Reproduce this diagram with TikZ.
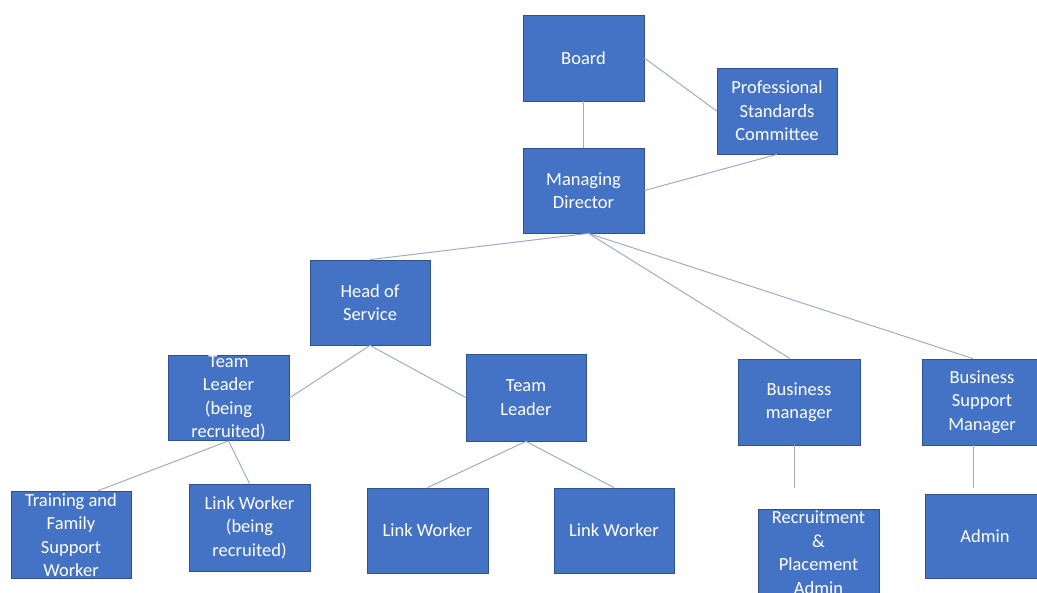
\documentclass[tikz,border=0pt]{standalone}
\usepackage{fontspec}
\setmainfont{Carlito}
\usetikzlibrary{calc}
\definecolor{boxblue}{RGB}{68,114,196}
\definecolor{boxedge}{RGB}{47,82,143}
\definecolor{linkline}{RGB}{160,172,200}
\tikzset{
  obox/.style={draw=boxedge, line width=0.8pt, fill=boxblue, inner sep=0pt, rectangle},
  otext/.style={text=white, align=center, inner sep=0pt, font=\fontsize{18.5}{23.5}\selectfont},
  link/.style={draw=linkline, line width=1pt}
}
\newcommand\orgbox[6]{%
  \node[obox, minimum width=#4pt, minimum height=#5pt] (#1) at (#2,#3) {};
  \begin{scope}
    \clip ([shift={(0.6pt,-0.6pt)}]#1.north west) rectangle ([shift={(-0.6pt,0.6pt)}]#1.south east);
    \node[otext] (#1-t) at (#1.center) {#6};
  \end{scope}}
\begin{document}
\begin{tikzpicture}[x=1pt,y=-1pt]
\clip (0,0) rectangle (1037,593);
\fill[white] (0,0) rectangle (1037,593);
% boxes
\orgbox{board}{583.5}{58}{121}{86}{Board}
\orgbox{psc}{777}{111}{120}{86}{Professional\\Standards\\Committee}
\orgbox{md}{583.5}{190.5}{121}{85}{Managing\\Director}
\orgbox{hos}{370}{302.5}{120}{85}{Head of\\Service}
\orgbox{tlr}{228.5}{398}{121}{85}{Team\\Leader\\(being\\recruited)}
\orgbox{tl}{526}{397.5}{120}{87}{Team\\Leader}
\orgbox{bm}{799}{402}{122}{86}{Business\\manager}
\orgbox{bsm}{982}{402}{120}{86}{Business\\Support\\Manager}
\orgbox{tfsw}{71}{535}{120}{87}{Training and\\Family\\Support\\Worker}
\orgbox{lwr}{249.5}{527.5}{121}{87}{Link Worker\\(being\\recruited)}
\orgbox{lwa}{427.5}{530.5}{121}{85}{Link Worker}
\orgbox{lwb}{614}{530.5}{120}{85}{Link Worker}
\orgbox{rpa}{818.5}{552.5}{121}{86}{Recruitment\\\&\\Placement\\Admin}
\orgbox{adm}{985}{536}{120}{84}{Admin}
% free ends
\coordinate (rpaend) at (794,488);
\coordinate (admend) at (973,488);
% connectors
\draw[link] (board.south) -- (md.north);
\draw[link] (board.east) -- (psc.west);
\draw[link] (psc.south) -- (md.east);
\draw[link] ($(md.south)+(5,0)$) -- (hos.north);
\draw[link] ($(md.south)+(5,0)$) -- ($(bm.north)+(-9,0)$);
\draw[link] ($(md.south)+(5,0)$) -- ($(bsm.north)+(-9,0)$);
\draw[link] (hos.south) -- (tlr.east);
\draw[link] (hos.south) -- (tl.west);
\draw[link] (tlr.south) -- ($(tfsw.north)+(26,0)$);
\draw[link] (tlr.south) -- (lwr.north);
\draw[link] (tl.south) -- (lwa.north);
\draw[link] (tl.south) -- (lwb.north);
\draw[link] ($(bm.south)+(-5,0)$) -- (rpaend);
\draw[link] ($(bsm.south)+(-9,0)$) -- (admend);
\end{tikzpicture}
\end{document}
